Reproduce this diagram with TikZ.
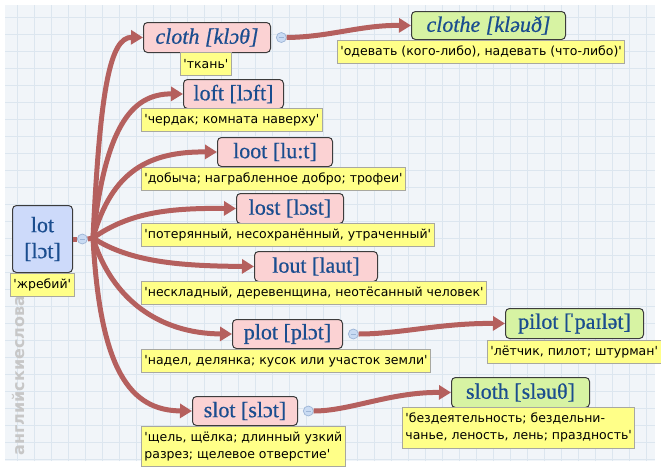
\documentclass[tikz,border=0pt]{standalone}
\usepackage{fontspec}
\setmainfont{Liberation Serif}
\newfontfamily\wordfont[FakeBold=0.6]{Liberation Serif}
\newfontfamily\glossfont{DejaVu Sans}
\usepackage{xcolor}
\usetikzlibrary{arrows.meta,calc,positioning}
\definecolor{linkred}{HTML}{B5605E}
\definecolor{wordblue}{HTML}{1A4D8F}
\definecolor{boxedge}{HTML}{3C3C3C}
\definecolor{pinkfill}{HTML}{FBD2D3}
\definecolor{greenfill}{HTML}{D7F3A3}
\definecolor{bluefill}{HTML}{CDDAFA}
\definecolor{glossfill}{HTML}{FFFF88}
\definecolor{glossedge}{HTML}{A8A8A0}
\definecolor{bgfill}{HTML}{F1F5F9}
\definecolor{gridline}{HTML}{DCE6EF}
\definecolor{knobfill}{HTML}{C9DBF3}
\definecolor{knobedge}{HTML}{9DB5D6}
\tikzset{
  word/.style={draw=boxedge,line width=1pt,rounded corners=4pt,anchor=north west,inner sep=0pt,
    text=wordblue,font=\wordfont\fontsize{22}{26}\selectfont,align=center},
  pinkw/.style={word,fill=pinkfill},
  greenw/.style={word,fill=greenfill},
  bluew/.style={word,fill=bluefill},
  gloss/.style={draw=glossedge,line width=0.8pt,fill=glossfill,anchor=north west,inner xsep=3pt,inner ysep=0pt,
    minimum height=23pt,align=left,font=\glossfont\fontsize{12.5}{17}\selectfont},
  link/.style={linkred,line width=5pt,-{Triangle[length=12pt,width=14pt]}},
  knob/.style={circle,fill=knobfill,draw=knobedge,line width=0.7pt,inner sep=0pt,minimum size=10pt,
    path picture={\draw[knobedge,line width=1pt] ([xshift=-2.5pt]path picture bounding box.center)
      -- ([xshift=2.5pt]path picture bounding box.center);}}
}
\begin{document}
\begin{tikzpicture}[x=1pt,y=-1pt]
\useasboundingbox (0,0) rectangle (661,466);
\fill[white] (0,0) rectangle (661,466);
\fill[bgfill] (5,5) rectangle (655,461);
\draw[gridline,step=17pt] (5,5) grid (655,461);
\node[rotate=90,anchor=west,text=black!22,font=\glossfont\bfseries\fontsize{16}{16}\selectfont] (wmark) at (20,459) {английскиеслова.рф};

% words
\node[bluew,minimum width=60pt,minimum height=67pt] (lot) at (12,205) {lot\\\relax[lɔt]};
\node[pinkw,minimum width=127pt,minimum height=30pt,font=\wordfont\fontsize{22}{26}\selectfont\itshape] (cloth) at (143,22) {cloth [klɔθ]};
\node[greenw,minimum width=154pt,minimum height=28pt,font=\wordfont\fontsize{22}{26}\selectfont\itshape] (clothe) at (411,11) {clothe [kləuð]};
\node[pinkw,minimum width=100pt,minimum height=29pt] (loft) at (183,79) {loft [lɔft]};
\node[pinkw,minimum width=115pt,minimum height=29pt] (loot) at (217,137) {loot [lu:t]};
\node[pinkw,minimum width=107pt,minimum height=30pt] (lost) at (236,193) {lost [lɔst]};
\node[pinkw,minimum width=123pt,minimum height=30pt] (lout) at (254,251) {lout [laut]};
\node[pinkw,minimum width=110pt,minimum height=29pt] (plot) at (232,319) {plot [plɔt]};
\node[greenw,minimum width=138pt,minimum height=30pt] (pilot) at (505,308) {pilot [\kern-3ptˈ\kern-1pt paɪlət]};
\node[pinkw,minimum width=105pt,minimum height=29pt] (slot) at (192,396) {slot [slɔt]};
\node[greenw,minimum width=138pt,minimum height=30pt] (sloth) at (451,377) {sloth [sləuθ]};

% glosses
\node[gloss] (lotgl) at (10,273) {'жребий'};
\node[gloss] (clothgl) at (180,52) {'ткань'};
\node[gloss] (clothegl) at (337,40) {'одевать (кого-либо), надевать (что-либо)'};
\node[gloss] (loftgl) at (141,108) {'чердак; комната наверху'};
\node[gloss] (lootgl) at (141,167) {'добыча; награбленное добро; трофеи'};
\node[gloss] (lostgl) at (141,223) {'потерянный, несохранённый, утраченный'};
\node[gloss] (loutgl) at (141,281) {'нескладный, деревенщина, неотёсанный человек'};
\node[gloss] (plotgl) at (141,349) {'надел, делянка; кусок или участок земли'};
\node[gloss] (pilotgl) at (487,340) {'лётчик, пилот; штурман'};
\node[gloss,minimum height=41pt] (slothgl) at (402,407) {'бездеятельность; бездельни-\\чанье, леность, лень; праздность'};
\node[gloss,minimum height=40pt] (slotgl) at (141,426) {'щель, щёлка; длинный узкий\\разрез; щелевое отверстие'};

% toggles
\node[knob,right=4pt of lot] (lotknob) {};
\node[knob,right=5pt of cloth] (clothknob) {};
\node[knob,right=5pt of plot] (plotknob) {};
\node[knob,right=5pt of slot] (slotknob) {};
\coordinate (J) at (93,238);

% links
\draw[linkred,line width=5pt] (lot.east) -- (lotknob.west);
\draw[linkred,line width=5pt] (lotknob.east) -- (J);
\draw[link] (J) .. controls (100,90) and (110,37) .. (cloth.west);
\draw[link] (J) .. controls (105,130) and (130,93.5) .. (loft.west);
\draw[link] (J) .. controls (112,170) and (150,151.5) .. (loot.west);
\draw[link] (J) .. controls (130,212) and (170,208) .. (lost.west);
\draw[link] (J) .. controls (130,262) and (180,266) .. (lout.west);
\draw[link] (J) .. controls (112,300) and (160,333.5) .. (plot.west);
\draw[link] (J) .. controls (100,370) and (130,410.5) .. (slot.west);
\draw[link] (clothknob.east) .. controls (330,37) and (360,25) .. (clothe.west);
\draw[link] (plotknob.east) .. controls (400,334) and (440,323) .. (pilot.west);
\draw[link] (slotknob.east) .. controls (350,411) and (390,392) .. (sloth.west);
\end{tikzpicture}
\end{document}
